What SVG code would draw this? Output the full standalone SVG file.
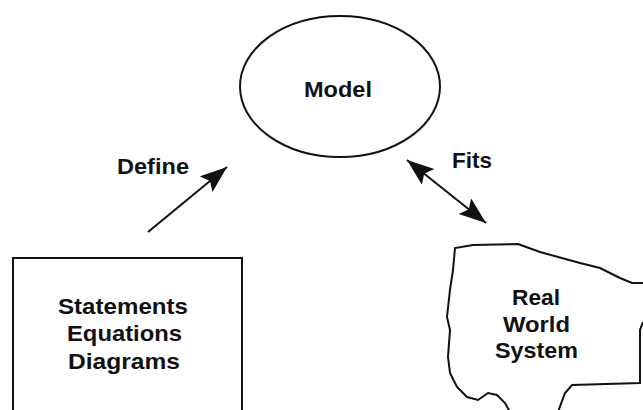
<svg xmlns="http://www.w3.org/2000/svg" width="643" height="410" viewBox="0 0 643 410">
<style>
.t{font-family:"Liberation Sans",Arial,sans-serif;font-weight:bold;font-size:22px;fill:#111}
.s{fill:none;stroke:#111;stroke-width:2}
.c{stroke:#111;stroke-width:2;fill:none}
</style>
<defs>
<marker id="ah" markerUnits="userSpaceOnUse" markerWidth="32" markerHeight="24" refX="27" refY="10" orient="auto-start-reverse">
<path d="M0,0 L27,10 L0,20 L5,10 Z" fill="#111"/>
</marker>
</defs>
<rect width="643" height="410" fill="#fff"/>
<g id="model">
<ellipse class="s" cx="340" cy="86.5" rx="100" ry="70.5"/>
<text class="t" x="304" y="97" textLength="68" lengthAdjust="spacingAndGlyphs">Model</text>
</g>
<g id="statements">
<path class="s" d="M13,412 L13,258 L242,258 L242,412"/>
<text class="t" x="58" y="314" textLength="130" lengthAdjust="spacingAndGlyphs">Statements</text>
<text class="t" x="67" y="341" textLength="115" lengthAdjust="spacingAndGlyphs">Equations</text>
<text class="t" x="68" y="369" textLength="112" lengthAdjust="spacingAndGlyphs">Diagrams</text>
</g>
<g id="realworld">
<path class="s" d="M645,283 L632,283 L620,278 L600,268 L580,263 L540,252 L518,244 L473,245 L455,248 L453,270 L450,290 L447,317 L450,330 L448,357 L450,373 L457,387 L467,397 L478,400 L488,393 L497,395 L505,403 L510,412 M558,412 L565,393 L572,385 L640,383 L640,330 L643,322"/>
<text class="t" x="512" y="305" textLength="48" lengthAdjust="spacingAndGlyphs">Real</text>
<text class="t" x="503" y="332" textLength="67" lengthAdjust="spacingAndGlyphs">World</text>
<text class="t" x="495" y="358" textLength="83" lengthAdjust="spacingAndGlyphs">System</text>
</g>
<g id="connectors">
<line class="c" x1="148" y1="232" x2="227" y2="167" marker-end="url(#ah)"/>
<text class="t" x="117" y="174" textLength="72" lengthAdjust="spacingAndGlyphs">Define</text>
<line class="c" x1="407" y1="160" x2="486" y2="223" marker-start="url(#ah)" marker-end="url(#ah)"/>
<text class="t" x="452" y="168" textLength="40" lengthAdjust="spacingAndGlyphs">Fits</text>
</g>
</svg>
